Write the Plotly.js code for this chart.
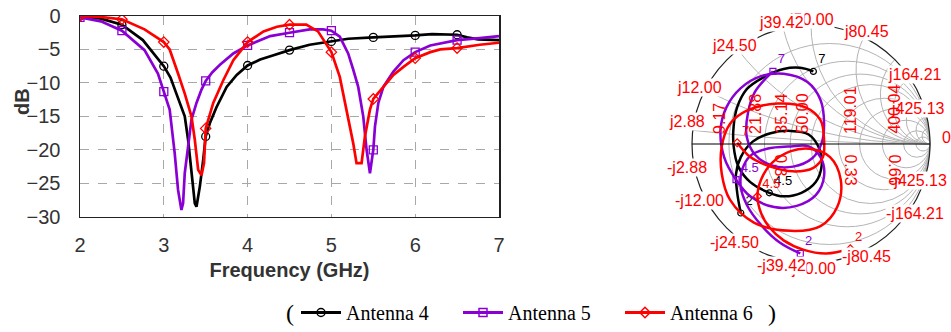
<!DOCTYPE html>
<html><head><meta charset="utf-8">
<script src="https://cdn.plot.ly/plotly-3.0.1.min.js"></script>
<style>html,body{margin:0;padding:0;background:#fff;}#chart{width:951px;height:332px;}</style>
</head><body><div id="chart"></div>
<script>
// ---------- data ----------
const seriesNames = ['Antenna 4', 'Antenna 5', 'Antenna 6'];
const seriesColors = ['#000000', '#8a00d4', '#ff0000'];
const seriesSymbols = ['circle-open', 'square-open', 'diamond-open'];

const freqAnt4 = [2.0,2.25,2.5,2.75,3.0,3.08,3.15,3.25,3.29,3.33,3.37,3.39,3.43,3.47,3.5,3.55,3.63,3.75,3.87,4.0,4.15,4.3,4.5,4.74,5.0,5.2,5.5,5.75,6.0,6.2,6.35,6.5,6.62,6.75,7.0];
const s11Ant4  = [0,-0.4,-1.3,-3.6,-7.5,-9.2,-11.6,-15,-18.5,-23.5,-28,-28.5,-25.5,-21.5,-18,-16,-13.6,-10.6,-8.8,-7.4,-6.5,-5.9,-5.1,-4.3,-3.8,-3.4,-3.2,-3.1,-2.9,-2.7,-2.8,-2.8,-3.2,-3.5,-3.6];

const freqAnt5 = [2.0,2.25,2.5,2.77,2.93,3.0,3.07,3.13,3.17,3.21,3.23,3.25,3.29,3.33,3.39,3.45,3.5,3.58,3.67,3.83,4.0,4.15,4.27,4.5,4.74,4.9,5.0,5.1,5.2,5.26,5.32,5.38,5.42,5.46,5.5,5.52,5.56,5.62,5.74,5.86,6.0,6.18,6.3,6.5,6.77,7.0];
const s11Ant5  = [-0.2,-0.8,-2.2,-5.1,-8.6,-11.3,-14,-20.5,-26,-29,-28,-23.5,-19.5,-15.5,-13,-11,-9.7,-8.4,-7.3,-5.6,-4.4,-3.6,-3.0,-2.5,-2.0,-2.0,-2.2,-3.1,-5.6,-8,-10.6,-15,-20,-23.5,-20,-16.5,-13,-10.6,-8.3,-6.6,-5.4,-4.4,-4.1,-3.6,-3.3,-3.0];

const freqAnt6 = [2.0,2.25,2.5,2.77,3.0,3.07,3.17,3.25,3.33,3.37,3.41,3.45,3.48,3.5,3.59,3.71,3.83,4.0,4.19,4.35,4.5,4.7,4.84,5.0,5.1,5.2,5.26,5.3,5.36,5.4,5.46,5.5,5.62,5.74,5.86,6.0,6.18,6.3,6.5,6.77,7.0];
const s11Ant6  = [0,-0.15,-0.5,-2.0,-3.9,-5.0,-8.6,-11.6,-15,-18.5,-23,-23.8,-22,-16.8,-13,-9.6,-6.6,-3.9,-2.3,-1.6,-1.3,-1.3,-2.3,-5.4,-9.1,-15,-19,-22,-22,-18,-14,-12.4,-10.6,-8.8,-7.6,-6.3,-5.4,-5.0,-4.8,-4.3,-4.0];

const xTicks = [2, 3, 4, 5, 6, 7];
const yTicks = [0, -5, -10, -15, -20, -25, -30];

// Smith chart: traced reflection coefficient (real, imag)
const gRe4 = [-0.59,-0.62,-0.63,-0.59,-0.49,-0.34,-0.17,-0.02,0.07,0.09,0.04,-0.08,-0.23,-0.35,-0.51,-0.61,-0.65,-0.65,-0.62,-0.54,-0.40,-0.23,-0.09,0.02];
const gIm4 = [-0.58,-0.41,-0.25,-0.11,0.02,0.09,0.11,0.08,-0.04,-0.18,-0.32,-0.41,-0.44,-0.41,-0.32,-0.19,-0.02,0.15,0.31,0.46,0.56,0.63,0.64,0.61];
const lbl4 = [0, 13, 23];

const gRe5 = [-0.09,-0.26,-0.42,-0.54,-0.59,-0.58,-0.51,-0.37,-0.17,-0.02,0.08,0.11,0.04,-0.12,-0.31,-0.51,-0.63,-0.73,-0.76,-0.71,-0.59,-0.42,-0.23,-0.03,0.08,0.11,0.09,0.01,-0.15,-0.33,-0.47,-0.54,-0.53,-0.47,-0.32];
const gIm5 = [-0.92,-0.83,-0.68,-0.51,-0.36,-0.22,-0.10,-0.04,-0.02,-0.02,-0.11,-0.27,-0.43,-0.52,-0.53,-0.44,-0.30,-0.11,0.12,0.31,0.47,0.57,0.59,0.52,0.37,0.17,0.01,-0.12,-0.19,-0.18,-0.09,0.06,0.26,0.44,0.61];
const lbl5 = [0, 16, 34];

const gRe6 = [0.33,0.13,-0.06,-0.23,-0.35,-0.42,-0.45,-0.42,-0.33,-0.17,-0.01,0.16,0.25,0.22,0.08,-0.17,-0.48,-0.68,-0.75,-0.75,-0.68,-0.54,-0.28,-0.05,0.08,0.11,0.10,0.02,-0.15,-0.34,-0.51,-0.62];
const gIm6 = [-0.88,-0.92,-0.89,-0.81,-0.70,-0.58,-0.44,-0.30,-0.16,-0.06,-0.04,-0.11,-0.30,-0.53,-0.69,-0.73,-0.66,-0.47,-0.25,-0.02,0.17,0.28,0.34,0.31,0.20,0.03,-0.11,-0.20,-0.23,-0.19,-0.11,0.01];
const lbl6 = [0, 6, 31];
const smithFreqText = ['2', '4.5', '7'];

const reactanceTicks  = [0.0576, 0.24, 0.49, 0.7884, 1, 1.609, 3.2842, 8.5026];
const reactanceLabels = ['2.88', '12.00', '24.50', '39.42', '50.00', '80.45', '164.21', '425.13'];
const reactanceGrid   = [0.0576, 0.24, 0.49, 0.7884, 1, 1.609, 2.4, 3.2842, 5, 8.5026, 15];
const resistanceTicks  = [0.1834, 0.4376, 0.7028, 1, 2.38, 8.0];
const resistanceLabels = ['9.17', '21.88', '35.14', '50.00', '119.01', '400.04'];
const resistanceGrid   = [0.1834, 0.4376, 0.7028, 1, 1.6, 2.38, 4, 8.0, 16];
const lowerTicks  = [0.7028, 2.38, 8.0];
const lowerLabels = ['0.3', '0.33', '0.66'];

// ---------- build ----------
const W = 951, H = 332;
const px = v => v / W, py = v => 1 - v / H;
const SC = {cx: 811, cy: 144, r: 119};

function toZ(re, im) {
  const zr = [], zi = [];
  for (let i = 0; i < re.length; i++) {
    const a = re[i], b = im[i], d = (1 - a) * (1 - a) + b * b;
    zr.push((1 - a * a - b * b) / d); zi.push(2 * b / d);
  }
  return [zr, zi];
}

const freqs = [freqAnt4, freqAnt5, freqAnt6];
const s11s = [s11Ant4, s11Ant5, s11Ant6];
const gammas = [[gRe4, gIm4], [gRe5, gIm5], [gRe6, gIm6]];
const lbls = [lbl4, lbl5, lbl6];
const traces = [];

for (let k = 0; k < 3; k++) {
  const f = freqs[k], s = s11s[k];
  traces.push({type: 'scatter', x: f, y: s, mode: 'lines', showlegend: false,
    line: {color: seriesColors[k], width: 2.7}, hoverinfo: 'skip'});
  const mx = [], my = [];
  f.forEach((v, i) => { if (Math.abs(v * 2 - Math.round(v * 2)) < 1e-6 && v < 6.9) { mx.push(v); my.push(s[i]); } });
  traces.push({type: 'scatter', x: mx, y: my, mode: 'markers', showlegend: false,
    marker: {symbol: seriesSymbols[k], size: 8, color: seriesColors[k], line: {width: 1.3}}});
}
for (let k = 0; k < 3; k++) {
  const [zr, zi] = toZ(gammas[k][0], gammas[k][1]);
  traces.push({type: 'scattersmith', real: zr, imag: zi, mode: 'lines', showlegend: false,
    line: {color: seriesColors[k], width: 2.5, shape: 'spline', smoothing: 1}});
  const lr = lbls[k].map(i => zr[i]), li = lbls[k].map(i => zi[i]);
  traces.push({type: 'scattersmith', real: lr, imag: li, mode: 'markers+text', showlegend: false,
    text: smithFreqText, textposition: 'top right',
    textfont: {family: 'Liberation Sans, Arial, sans-serif', size: 13, color: seriesColors[k]},
    marker: {symbol: seriesSymbols[k], size: 6, color: seriesColors[k], line: {width: 1.2}}});
}
for (let k = 0; k < 3; k++) {
  traces.push({type: 'scatter', x: [null], y: [null], mode: 'lines+markers', name: seriesNames[k],
    line: {color: seriesColors[k], width: 3},
    marker: {symbol: seriesSymbols[k], size: 8, color: seriesColors[k], line: {width: 1.5}}});
}

const annotations = [];
const labFont = {family: 'Liberation Sans, Arial, sans-serif', size: 16, color: '#ff0000'};
function addOuter(text, theta) {
  const k = 1.05;
  let x = SC.cx + k * SC.r * Math.cos(theta);
  let dy = k * SC.r * Math.sin(theta);
  const minDy = x > SC.cx ? 36 : 23;
  if (Math.abs(dy) < minDy) dy = Math.sign(dy) * minDy;
  if (x > 918) x = 918;
  annotations.push({xref: 'paper', yref: 'paper', x: px(x),
    y: py(SC.cy - dy), text: text, showarrow: false,
    xanchor: 'center', yanchor: 'middle', font: labFont, bgcolor: '#ffffff', borderpad: 0});
}
const order = [4, 0, 1, 2, 3, 5, 6, 7];
order.forEach(i => {
  const th = Math.PI - 2 * Math.atan(reactanceTicks[i]);
  addOuter('j' + reactanceLabels[i], th);
  addOuter('-j' + reactanceLabels[i], -th);
});
annotations.push({xref: 'paper', yref: 'paper', x: px(946), y: py(137), text: '0', showarrow: false,
  xanchor: 'center', yanchor: 'middle', font: labFont});
resistanceTicks.forEach((r, i) => {
  const g = (r - 1) / (r + 1);
  annotations.push({xref: 'paper', yref: 'paper', x: px(SC.cx + SC.r * g), y: py(SC.cy), text: resistanceLabels[i],
    textangle: -90, showarrow: false, xanchor: 'right', yanchor: 'bottom', yshift: 8, xshift: 1, font: labFont});
});
lowerTicks.forEach((r, i) => {
  const g = (r - 1) / (r + 1);
  annotations.push({xref: 'paper', yref: 'paper', x: px(SC.cx + SC.r * g), y: py(SC.cy), text: lowerLabels[i],
    textangle: 90, showarrow: false, xanchor: 'right', yanchor: 'top', yshift: -8, xshift: 1, font: labFont});
});
const serifFont = {family: 'Liberation Serif, Times New Roman, serif', size: 24, color: '#000'};
annotations.push({xref: 'paper', yref: 'paper', x: px(290), y: py(313), text: '(', showarrow: false,
  xanchor: 'center', yanchor: 'middle', font: serifFont});
annotations.push({xref: 'paper', yref: 'paper', x: px(772), y: py(313), text: ')', showarrow: false,
  xanchor: 'center', yanchor: 'middle', font: serifFont});
const axisFont = {family: 'Liberation Sans, Arial, sans-serif', size: 20, color: '#333'};
annotations.push({xref: 'paper', yref: 'paper', x: px(22), y: py(102), text: '<b>dB</b>', textangle: -90,
  showarrow: false, xanchor: 'center', yanchor: 'middle', font: axisFont});

const layout = {
  width: W, height: H, margin: {l: 0, r: 0, t: 0, b: 0},
  paper_bgcolor: '#fff', plot_bgcolor: '#fff',
  font: {family: 'Liberation Sans, Arial, sans-serif', color: '#333'},
  showlegend: true,
  legend: {orientation: 'h', x: px(296), xanchor: 'left', y: 0, yanchor: 'bottom',
    font: {family: 'Liberation Serif, Times New Roman, serif', size: 20, color: '#000'},
    bgcolor: 'rgba(0,0,0,0)', itemwidth: 40, entrywidth: 107, tracegroupgap: 0},
  xaxis: {domain: [px(80), px(499)], range: [2, 7], tickvals: xTicks, ticks: '', showgrid: true,
    gridcolor: '#a8a8a8', griddash: 'dash', gridwidth: 1, zeroline: false, showline: true, mirror: true,
    linecolor: '#222', linewidth: 1.5, tickfont: axisFont, ticklabelstandoff: 10, automargin: false,
    title: {text: '<b>Frequency (GHz)</b>', font: axisFont, standoff: 8}},
  yaxis: {domain: [py(216.7), py(16)], range: [-30, 0], tickvals: yTicks, ticks: '', showgrid: true,
    gridcolor: '#a8a8a8', griddash: 'dash', gridwidth: 1, zeroline: false, showline: true, mirror: true,
    linecolor: '#222', linewidth: 1.5, tickfont: axisFont, ticklabelstandoff: 14, automargin: false},
  smith: {domain: {x: [px(SC.cx - SC.r), px(SC.cx + SC.r)], y: [py(SC.cy + SC.r), py(SC.cy - SC.r)]},
    bgcolor: 'rgba(0,0,0,0)',
    realaxis: {tickvals: resistanceGrid, showticklabels: false, ticks: '', gridcolor: '#b4b4b4', gridwidth: 1,
      showline: true, linecolor: '#000', linewidth: 1.2},
    imaginaryaxis: {tickvals: reactanceGrid, showticklabels: false, ticks: '', gridcolor: '#b4b4b4', gridwidth: 1,
      showline: true, linecolor: '#222', linewidth: 1.2}},
  annotations: annotations
};
Plotly.newPlot('chart', traces, layout, {displayModeBar: false, staticPlot: true});
</script></body></html>
